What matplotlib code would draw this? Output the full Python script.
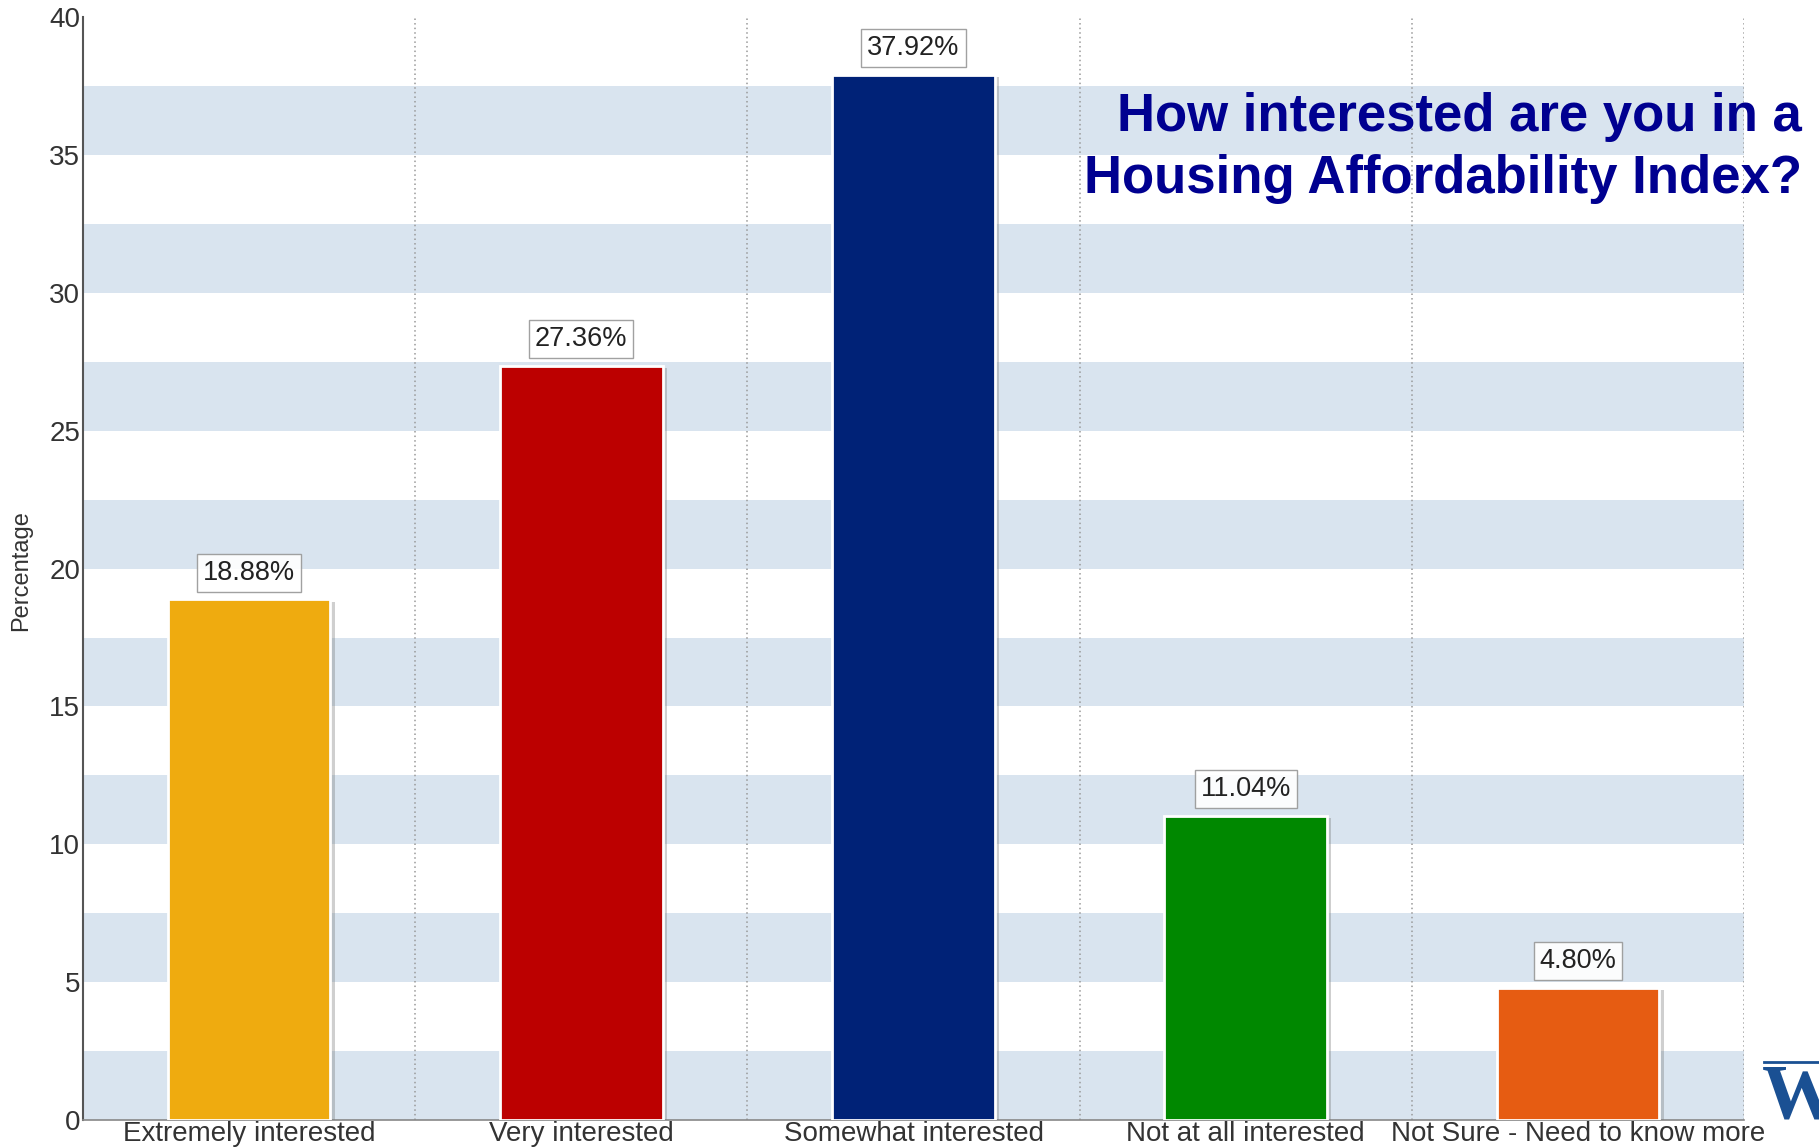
import matplotlib
matplotlib.use("Agg")
import matplotlib.pyplot as plt
import matplotlib.patheffects as pe

categories = ["Extremely interested", "Very interested", "Somewhat interested",
              "Not at all interested", "Not Sure - Need to know more"]
values = [18.88, 27.36, 37.92, 11.04, 4.80]
bar_colors = ["#EFAB0F", "#BC0000", "#002277", "#008800", "#E65C12"]
y_ticks = [0, 5, 10, 15, 20, 25, 30, 35, 40]

plt.rcParams['font.family'] = ['Liberation Sans', 'DejaVu Sans']

fig = plt.figure(figsize=(18.19, 11.48), dpi=100)
ax = fig.add_axes([0.0456, 0.0244, 0.9132, 0.9606])
ax.set_xlim(-0.5, len(categories) - 0.5)
ax.set_ylim(0, 40)

# background bands
for k in range(8):
    ax.axhspan(5 * k, 5 * k + 2.5, color="#D9E4EF", zorder=0, lw=0)

# vertical dotted separators
for k in range(len(categories)):
    ax.axvline(k + 0.5, color="#999999", lw=1.1, ls=(0, (1, 2)), zorder=1)

x = list(range(len(categories)))
bars = ax.bar(x, values, width=0.49, color=bar_colors, edgecolor="white",
              linewidth=2, zorder=3)
for b in bars:
    b.set_path_effects([pe.SimplePatchShadow(offset=(3, -2), alpha=0.35,
                                             shadow_rgbFace="#777777"),
                        pe.Normal()])

for xi, v in zip(x, values):
    ax.annotate(f"{v:.2f}%", xy=(xi, v), xytext=(0, 10),
                textcoords="offset points", ha="center", va="bottom",
                fontsize=19.5, color="#222222", zorder=5,
                bbox=dict(boxstyle="square,pad=0.22", fc="white", ec="#999999",
                          lw=1.0, alpha=0.92))

ax.set_xticks(x)
ax.set_xticklabels(categories, fontsize=20, color="#333333")
ax.set_yticks(y_ticks)
ax.set_yticklabels([str(t) for t in y_ticks], fontsize=20, color="#333333")
ax.tick_params(axis="both", length=0, pad=2)
ax.tick_params(axis="x", pad=1)

fig.text(0.0115, 0.503, "Percentage", rotation=90, ha="center", va="center",
         fontsize=17, color="#333333")

for s in ["top", "right"]:
    ax.spines[s].set_visible(False)
ax.spines["left"].set_color("#555555")
ax.spines["left"].set_linewidth(1.5)
ax.spines["bottom"].set_color("#888888")
ax.spines["bottom"].set_linewidth(1.2)
ax.spines["bottom"].set_bounds(-0.5, 4.5)

fig.text(0.9907, 0.871, "How interested are you in a\nHousing Affordability Index?",
         ha="right", va="center", fontsize=38, fontweight="bold",
         color="#000090", linespacing=1.32)

# partial logo at bottom right (clipped by the figure edge, as in the original)
fig.text(0.9685, 0.0735, "W", fontsize=56, family="Liberation Serif",
         fontweight="bold", color="#1A5093", ha="left", va="top")
fig.add_artist(plt.Line2D([0.9695, 1.0], [0.0749, 0.0749], color="#1A5093", lw=2,
                          transform=fig.transFigure))

fig.savefig("out.png", dpi=100)
